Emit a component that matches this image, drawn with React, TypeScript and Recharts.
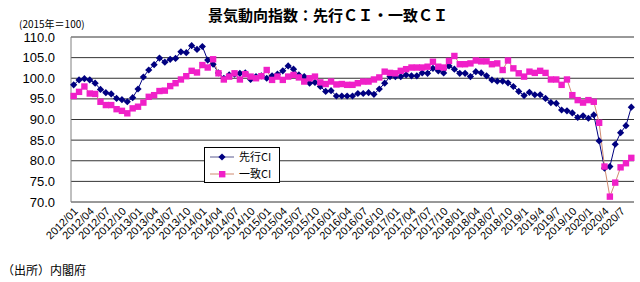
import React from 'react';
import { LineChart, Line, XAxis, YAxis, CartesianGrid, Legend } from 'recharts';

// 先行CI (2012/01 - 2020/09, 2015=100)
const leadingCI = [
  98.4, 99.6, 99.9, 99.6, 98.8, 97.3, 96.5, 96.2, 95.1, 94.8, 94.3, 95.3,
  97.4, 100.3, 102.0, 103.3, 104.9, 103.9, 104.6, 104.8, 106.4, 106.2, 107.9, 107.0,
  107.7, 104.4, 103.4, 101.3, 100.0, 100.8, 101.0, 101.2, 101.3, 99.7, 100.4, 100.6,
  100.0, 100.6, 101.0, 101.8, 103.0, 102.2, 100.8, 100.4, 98.8, 99.0, 98.0, 96.8,
  97.0, 95.7, 95.7, 95.7, 95.7, 96.3, 96.3, 96.5, 96.1, 97.4, 98.8, 100.4,
  100.4, 100.4, 100.8, 100.6, 100.6, 101.3, 101.2, 102.4, 101.8, 101.3, 103.0, 102.2,
  101.2, 101.2, 100.4, 101.6, 101.3, 100.6, 99.6, 99.3, 99.3, 98.9, 98.0, 96.8,
  95.8, 96.6, 96.0, 96.0, 95.1, 94.1, 93.9, 92.3, 92.1, 91.6, 90.5, 90.9,
  90.3, 91.1, 84.8, 78.2, 78.6, 84.0, 86.8, 88.5, 93.0,
];

// 一致CI
const coincidentCI = [
  95.7, 96.7, 98.0, 96.3, 96.2, 94.3, 93.5, 93.5, 92.5, 92.1, 91.5, 92.7,
  93.1, 94.1, 95.5, 95.9, 96.9, 97.0, 98.1, 98.8, 99.7, 100.5, 101.8, 101.4,
  103.2, 102.6, 104.6, 101.2, 99.7, 100.4, 101.2, 99.7, 101.0, 100.4, 100.0, 100.5,
  102.0, 99.6, 100.4, 99.6, 100.4, 100.8, 100.2, 99.2, 100.0, 100.4, 99.0, 98.6,
  99.2, 98.5, 98.6, 98.4, 98.4, 98.8, 99.2, 99.2, 99.7, 100.2, 101.6, 101.3,
  101.2, 101.8, 102.2, 102.6, 102.6, 102.6, 102.8, 104.0, 102.8, 102.6, 104.2, 105.4,
  103.4, 103.4, 103.6, 104.3, 104.1, 104.1, 103.4, 103.6, 102.0, 104.3, 102.4, 101.2,
  100.4, 101.6, 101.3, 101.8, 101.3, 99.7, 99.7, 98.4, 99.7, 95.9, 94.7, 94.1,
  94.7, 94.3, 89.2, 78.6, 71.3, 74.7, 78.4, 79.4, 80.7,
];

const tickLabels = [
  '2012/01', '2012/04', '2012/07', '2012/10',
  '2013/01', '2013/04', '2013/07', '2013/10',
  '2014/01', '2014/04', '2014/07', '2014/10',
  '2015/01', '2015/04', '2015/07', '2015/10',
  '2016/01', '2016/04', '2016/07', '2016/10',
  '2017/01', '2017/04', '2017/07', '2017/10',
  '2018/01', '2018/04', '2018/07', '2018/10',
  '2019/1', '2019/4', '2019/7', '2019/10',
  '2020/1', '2020/4', '2020/7',
];

const yTicks = [70, 75, 80, 85, 90, 95, 100, 105, 110];

const NAVY = '#000080';
const MAGENTA = '#F020C8';
const MAGENTA_LINE = '#D08A70';
const FONT = '"Liberation Sans", Arial, sans-serif';
const JP_FONT = '"Noto Sans CJK JP", sans-serif';

const data = leadingCI.map((v, i) => ({
  pos: i + 0.5,
  leading: v,
  coincident: coincidentCI[i],
}));

// month boundaries for the small tick marks, label positions at every 3rd month
const boundaryTicks = Array.from({ length: leadingCI.length + 1 }, (_, i) => i);
const labelTicks = tickLabels.map((_, k) => k * 3 + 0.5);

const Diamond = (props: any) => {
  const { cx, cy, index } = props;
  if (cx == null || cy == null) return null;
  const r = 3.6;
  return (
    <path
      key={`d-${index}`}
      d={`M${cx},${cy - r}L${cx + r},${cy}L${cx},${cy + r}L${cx - r},${cy}Z`}
      fill={NAVY}
    />
  );
};

const Square = (props: any) => {
  const { cx, cy, index } = props;
  if (cx == null || cy == null) return null;
  return <rect key={`s-${index}`} x={cx - 3.2} y={cy - 3.2} width={6.4} height={6.4} fill={MAGENTA} />;
};

const MonthTick = ({ x, y, payload }: any) => {
  const label = tickLabels[Math.floor(payload.value / 3)];
  const tx = x + 5;
  const ty = y + 10;
  return (
    <text
      x={tx}
      y={ty}
      transform={`rotate(-45 ${tx} ${ty})`}
      textAnchor="end"
      fontSize={11}
      fontFamily={FONT}
      fill="#000"
    >
      {label}
    </text>
  );
};

const LegendBox = () => (
  <div
    style={{
      width: 74,
      height: 34,
      border: '1px solid #000',
      background: '#fff',
      fontFamily: JP_FONT,
      fontSize: 11,
      lineHeight: '17px',
    }}
  >
    {[
      { name: '先行CI', color: NAVY, line: '#5a5a90', shape: 'd' },
      { name: '一致CI', color: MAGENTA, line: MAGENTA_LINE, shape: 's' },
    ].map((item) => (
      <div key={item.name} style={{ display: 'flex', alignItems: 'center', height: 17 }}>
        <svg width={34} height={17} style={{ display: 'block' }}>
          <line x1={5} y1={9} x2={29} y2={9} stroke={item.line} strokeWidth={1} />
          {item.shape === 'd' ? (
            <path d="M17,5.4L20.6,9L17,12.6L13.4,9Z" fill={item.color} />
          ) : (
            <rect x={14} y={6} width={6.4} height={6.4} fill={item.color} />
          )}
        </svg>
        <span>{item.name}</span>
      </div>
    ))}
  </div>
);

export default function App() {
  return (
    <div
      style={{
        position: 'absolute',
        left: 0,
        top: 0,
        width: 640,
        height: 282,
        background: '#fff',
        overflow: 'hidden',
      }}
    >
      <div
        style={{
          position: 'absolute',
          left: 0,
          width: 656,
          top: 5,
          textAlign: 'center',
          fontFamily: JP_FONT,
          fontWeight: 'bold',
          fontSize: 15,
          lineHeight: '20px',
          color: '#000',
        }}
      >
        景気動向指数：先行ＣＩ・一致ＣＩ
      </div>
      <div
        style={{
          position: 'absolute',
          left: 19,
          top: 17,
          fontFamily: JP_FONT,
          fontSize: 10,
          lineHeight: '14px',
          color: '#000',
        }}
      >
        (2015年＝100)
      </div>

      <LineChart
        width={640}
        height={282}
        data={data}
        margin={{ top: 37, right: 6, bottom: 0, left: 11 }}
      >
        <CartesianGrid vertical={false} stroke="#333" />
        <XAxis
          dataKey="pos"
          type="number"
          domain={[0, leadingCI.length]}
          ticks={boundaryTicks}
          interval={0}
          tickFormatter={() => ''}
          mirror
          tickSize={3}
          height={0}
          stroke="#000"
          tickLine={{ stroke: '#000' }}
        />
        <XAxis
          xAxisId="lab"
          dataKey="pos"
          type="number"
          domain={[0, leadingCI.length]}
          ticks={labelTicks}
          interval={0}
          tick={<MonthTick />}
          tickSize={0}
          tickMargin={0}
          tickLine={false}
          axisLine={false}
          height={80}
        />
        <YAxis
          domain={[70, 110]}
          ticks={yTicks}
          interval={0}
          width={60}
          tickLine={false}
          tickMargin={10}
          axisLine={{ stroke: '#808080' }}
          tickFormatter={(v: number) => v.toFixed(1)}
          tick={{ fontSize: 13, fill: '#000', fontFamily: FONT }}
        />
        <YAxis
          yAxisId="r"
          orientation="right"
          domain={[70, 110]}
          width={0}
          tick={false}
          tickLine={false}
          axisLine={{ stroke: '#808080' }}
        />
        <Legend
          layout="horizontal"
          verticalAlign="middle"
          align="center"
          content={<LegendBox />}
          wrapperStyle={{ left: 204, top: 147, width: 76, height: 36 }}
        />
        <Line
          type="linear"
          dataKey="leading"
          name="先行CI"
          stroke={NAVY}
          strokeWidth={1}
          dot={Diamond}
          activeDot={false}
          isAnimationActive={false}
        />
        <Line
          type="linear"
          dataKey="coincident"
          name="一致CI"
          stroke={MAGENTA_LINE}
          strokeWidth={1}
          dot={Square}
          activeDot={false}
          isAnimationActive={false}
        />
      </LineChart>

      <div
        style={{
          position: 'absolute',
          left: 2,
          top: 262,
          fontFamily: JP_FONT,
          fontSize: 12,
          lineHeight: '16px',
          color: '#000',
        }}
      >
        （出所）内閣府
      </div>
    </div>
  );
}
